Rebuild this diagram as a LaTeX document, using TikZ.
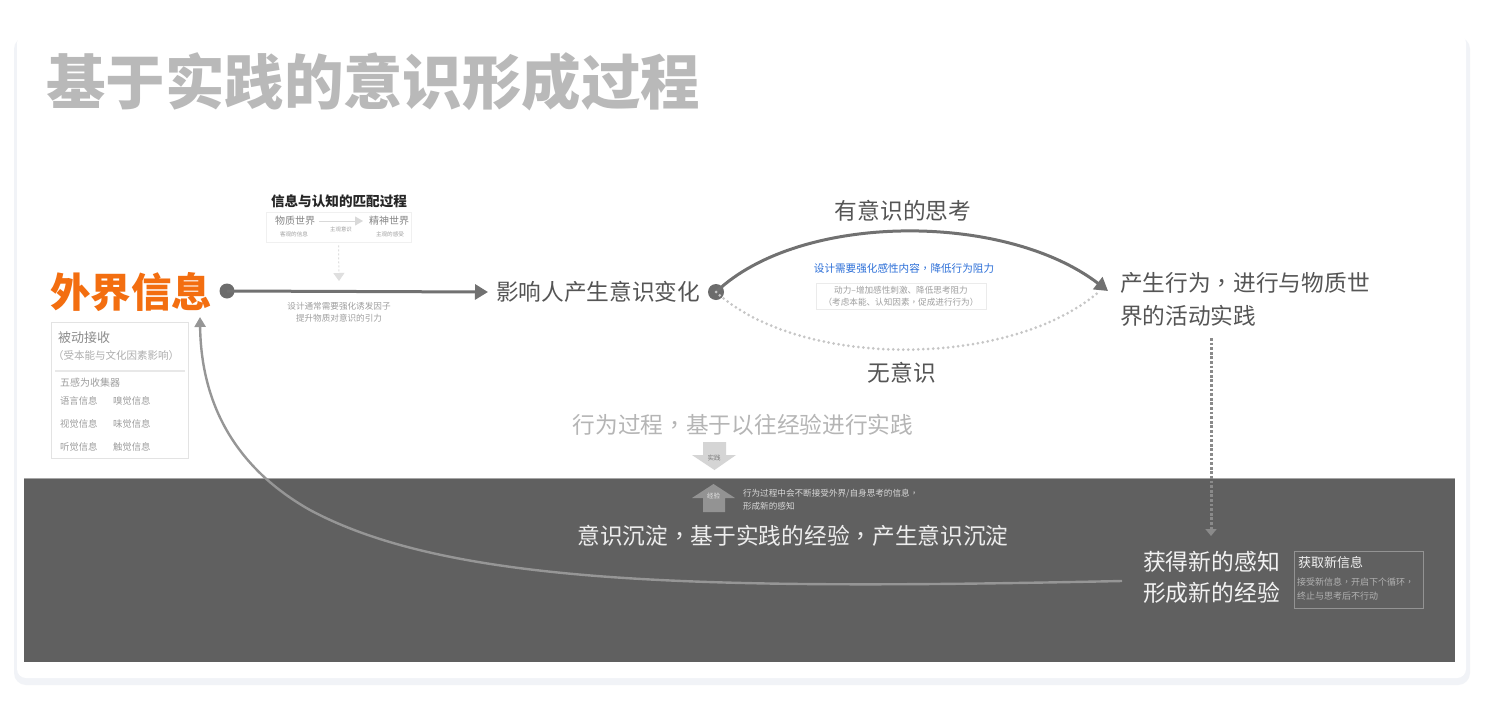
\documentclass[tikz,border=0pt]{standalone}
\usepackage{fontspec}
\newfontfamily\cjk{Noto Sans CJK SC}
\newfontfamily\cjktc{Noto Sans CJK TC}
\newcommand\cm{{\cjktc ，}}
\usetikzlibrary{arrows.meta}
\newcommand\fsz[2]{\fontsize{#1}{#2}\selectfont}
\definecolor{titlegray}{HTML}{B9B9B9}
\definecolor{orangeT}{HTML}{F36E10}
\definecolor{labgray}{HTML}{555555}
\definecolor{linegray}{HTML}{717171}
\definecolor{bandgray}{HTML}{606060}
\definecolor{bluetxt}{HTML}{2C6FD8}
\definecolor{softgray}{HTML}{9E9E9E}
\definecolor{shadowc}{HTML}{F1F3F7}
\definecolor{dotgray}{HTML}{8A8A8A}
\tikzset{
  txt/.style={inner sep=0pt, outer sep=0pt},
  biglab/.style={txt, text=labgray, font=\cjk\fsz{22.7}{27}},
  small/.style={txt, text=softgray, font=\cjk\fsz{8.6}{12}},
  mainline/.style={draw=linegray, line width=3pt},
  dotnode/.style={circle, fill=#1, inner sep=0pt, minimum size=15pt},
  frame/.style={draw=#1, line width=0.8pt, inner sep=0pt, fill=none},
}
\begin{document}
\begin{tikzpicture}[x=1pt,y=-1pt]
\useasboundingbox (0,0) rectangle (1492,715);
\fill[white] (0,0) rectangle (1492,715);
% card with shadow
\fill[shadowc, rounded corners=12pt] (14,37) rectangle (1470,685);
\fill[white, rounded corners=9pt] (17,34) rectangle (1466,678);
% band
\fill[bandgray] (24,478) rectangle (1455,662);
\draw[color=gray!70, line width=0.6pt] (24,478.3) -- (1455,478.3);

% title
\node[txt, anchor=west, text=titlegray, font=\cjk\bfseries\fsz{59.5}{65}] (title) at (46,82) {基于实践的意识形成过程};

% left: external info
\node[txt, anchor=west, text=orangeT, font=\cjk\bfseries\fsz{40.5}{45}] (ext) at (50,292) {外界信息};
\node[dotnode=gray!85!black] (d1) at (227,291) {};
\node[biglab, anchor=west] (infl) at (496,292) {影响人产生意识变化};
\draw[mainline, -{Triangle[length=13pt,width=15pt]}] (d1.center) -- ([xshift=-8pt]infl.west);

% passive box
\node[frame=gray!22, anchor=north west, minimum width=137pt, minimum height=136pt] (pbox) at (51,322) {};
\node[txt, anchor=west, text=gray!90, font=\cjk\fsz{13}{15}] (p1) at (58,338) {被动接收};
\node[txt, anchor=west, text=softgray!85, font=\cjk\fsz{10.5}{12}] (p2) at (53,356) {（受本能与文化因素影响）};
\draw[gray!18, line width=1.4pt] ([xshift=4pt]pbox.west |- 0,371) -- ([xshift=-4pt]pbox.east |- 0,371);
\node[txt, anchor=west, text=softgray, font=\cjk\fsz{10}{12}] (p3) at (60,383) {五感为收集器};
\node[txt, anchor=west, text=softgray, font=\cjk\fsz{9.4}{12}] (s1) at (60,401) {语言信息};
\node[txt, anchor=west, text=softgray, font=\cjk\fsz{9.4}{12}] (s2) at (113,401) {嗅觉信息};
\node[txt, anchor=west, text=softgray, font=\cjk\fsz{9.4}{12}] (s3) at (60,424) {视觉信息};
\node[txt, anchor=west, text=softgray, font=\cjk\fsz{9.4}{12}] (s4) at (113,424) {味觉信息};
\node[txt, anchor=west, text=softgray, font=\cjk\fsz{9.4}{12}] (s5) at (60,447) {听觉信息};
\node[txt, anchor=west, text=softgray, font=\cjk\fsz{9.4}{12}] (s6) at (113,447) {触觉信息};

% matching process
\node[txt, text=black!85, font=\cjk\bfseries\fsz{13.6}{16}] (mtitle) at (339,201) {信息与认知的匹配过程};
\node[frame=gray!12, minimum width=145pt, minimum height=30pt] (mbox) at (338.5,227) {};
\node[txt, text=gray!95, font=\cjk\fsz{10}{12}] (w1) at (295,221) {物质世界};
\node[txt, text=softgray, font=\cjk\fsz{5.6}{7}] (w1s) at (294,234) {客观的信息};
\node[txt, text=gray!95, font=\cjk\fsz{10}{12}] (w2) at (389,221) {精神世界};
\node[txt, text=softgray, font=\cjk\fsz{5.6}{7}] (w2s) at (390,234) {主观的感受};
\node[txt, text=softgray, font=\cjk\fsz{5.4}{7}] (wm) at (341,229) {主观意识};
\draw[gray!30, line width=0.9pt, -{Triangle[length=8pt,width=9pt]}] ([xshift=4pt]w1.east) -- ([xshift=-6pt]w2.west);
\coordinate (mdown) at (339,281);
\draw[gray!25, line width=1pt, dash pattern=on 2pt off 2pt, -{Triangle[length=8pt,width=11pt]}] ([yshift=-3pt]mbox.south) -- (mdown);
\node[small, align=center] (note1) at (339,312) {设计通常需要强化诱发因子\\提升物质对意识的引力};

% conscious / unconscious arcs
\node[dotnode=gray!85!black, minimum size=16pt] (d2) at (716,292) {};
\node[biglab, anchor=west, align=left, font=\cjk\fsz{22.7}{33}] (act) at (1120,299.5) {产生行为\cm 进行与物质世\\界的活动实践};
\coordinate (arcend) at (1108,291);
\draw[mainline, -{Triangle[length=13pt,width=15pt]}] (d2.center) .. controls (800,212) and (1005,212) .. (arcend);
\draw[gray!45, line width=3pt, line cap=round, dash pattern=on 0pt off 5pt] (d2.center) .. controls (800,369) and (1010,369) .. ([xshift=-8pt]arcend);
\node[biglab] (cons) at (903,211) {有意识的思考};
\node[biglab] (uncons) at (902,373) {无意识};
\node[txt, text=bluetxt, font=\cjk\fsz{10.6}{12}] (blue) at (904,268) {设计需要强化感性内容{\cjktc ，}降低行为阻力};
\node[frame=gray!16, minimum width=170pt, minimum height=26pt] (dbox) at (901,296) {};
\node[small, align=center] (dtext) at (901,296) {动力–增加感性刺激、降低思考阻力\\（考虑本能、认知因素{\cjktc ，}促成进行行为）};

% practice
\node[txt, text=gray!58, font=\cjk\fsz{22.7}{27}] (prac) at (743,425) {行为过程\cm 基于以往经验进行实践};
\fill[gray!33] (703,442) -- (726,442) -- (726,455) -- (736,455) -- (714.5,470) -- (692,455) -- (703,455) -- cycle;
\node[txt, text=gray!95!black, font=\cjk\fsz{6.5}{8}] (shijian) at (714,458) {实践};
\fill[gray!85] (713.5,484) -- (735,498) -- (725,498) -- (725,512) -- (703,512) -- (703,498) -- (692,498) -- cycle;
\node[txt, text=white!90!black, font=\cjk\fsz{6.5}{8}] (jingyan) at (713.5,496) {经验};
\node[txt, anchor=west, align=left, text=white!85!black, font=\cjk\fsz{8.6}{13}] (expl) at (743,499.5) {行为过程中会不断接受外界/自身思考的信息{\cjktc ，}\\形成新的感知};
\node[txt, text=white!93!black, font=\cjk\fsz{22.7}{27}] (sedi) at (793,536) {意识沉淀\cm 基于实践的经验\cm 产生意识沉淀};

% new perception
\node[txt, anchor=west, align=left, text=white!95!black, font=\cjk\fsz{22.8}{31}] (newp) at (1143,577.5) {获得新的感知\\形成新的经验};
\coordinate (vtop) at (1211,338);
\coordinate (vend) at (1211,536);
\draw[dotgray, line width=3pt, dash pattern=on 2.8pt off 1.8pt, -{Triangle[length=7pt,width=11pt]}] (vtop) -- (vend);
\node[frame=gray!85, anchor=north west, minimum width=129pt, minimum height=57pt] (gbox) at (1294,551) {};
\node[txt, anchor=west, text=white!95!black, font=\cjk\fsz{13}{15}] (gtitle) at (1298,563) {获取新信息};
\node[txt, anchor=west, align=left, text=white!70!black, font=\cjk\fsz{9}{14}] (gtext) at (1297,589) {接受新信息{\cjktc ，}开启下个循环{\cjktc ，}\\终止与思考后不行动};

% loop back curve
\coordinate (loopstart) at (1122,581);
\coordinate (loopend) at (200,317);
\draw[gray!82, line width=2.4pt, -{Triangle[length=10pt,width=11pt]}]
  (loopstart) .. controls (700,590) and (450,585) .. (310,510)
  .. controls (232,466) and (201,400) .. (loopend);
\end{tikzpicture}
\end{document}
